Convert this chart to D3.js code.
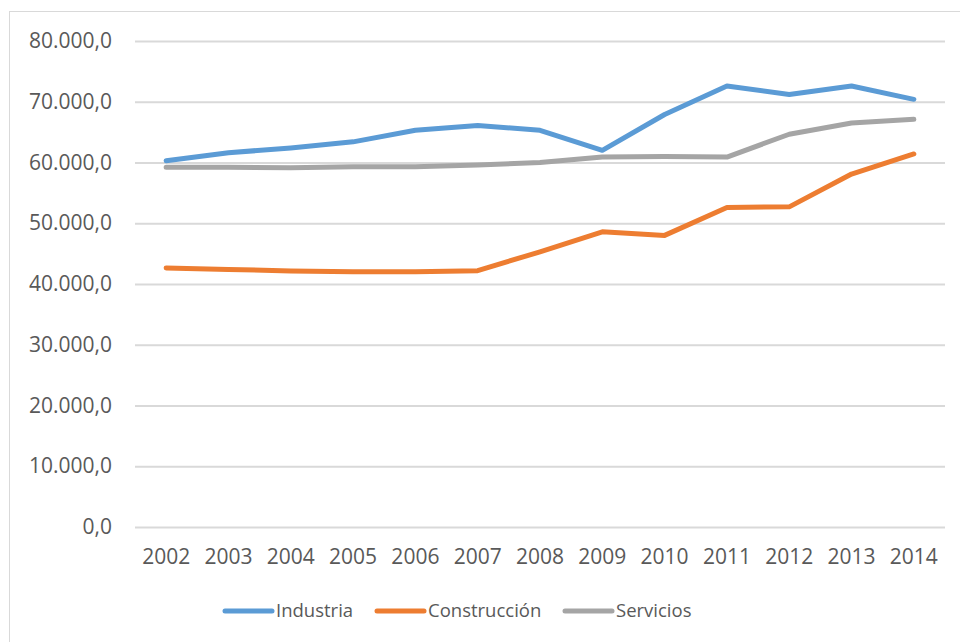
<!DOCTYPE html>
<html><head><meta charset="utf-8">
<script src="https://cdn.jsdelivr.net/npm/d3@7/dist/d3.min.js"></script>
<style>
html,body{margin:0;padding:0;background:#fff;}
text{font-family:"Open Sans",sans-serif;fill:#595959;}
</style></head>
<body>
<svg id="c" width="960" height="642"></svg>
<script>
const years = ["2002","2003","2004","2005","2006","2007","2008","2009","2010","2011","2012","2013","2014"];
const industria = [60300,61600,62400,63400,65300,66100,65300,62000,67900,72600,71200,72600,70400];
const construccion = [42650,42400,42150,42000,42000,42200,45300,48600,48000,52600,52700,58100,61400];
const servicios = [59200,59200,59150,59300,59300,59600,60000,60900,61000,60900,64650,66500,67100];
const yTicks = [0,10000,20000,30000,40000,50000,60000,70000,80000];
const seriesNames = ["Industria","Construcción","Servicios"];
const colors = ["#5B9BD5","#ED7D31","#A5A5A5"];

(function(){
const svg = d3.select("#c");
svg.append("rect").attr("x",9.5).attr("y",11.5).attr("width",1000).attr("height",700)
  .attr("fill","none").attr("stroke","#D9D9D9").attr("stroke-width",1);

const pl=135, pr=945, pt=41, pb=527;
const x = d3.scaleBand().domain(years).range([pl,pr]);
const y = d3.scaleLinear().domain([0,80000]).range([pb,pt]);
const fmt = v => d3.format(",.1f")(v).replace(/,/g,"X").replace(/\./g,",").replace(/X/g,".");

const yAxis = svg.append("g").attr("transform",`translate(${pl},0)`)
  .call(d3.axisLeft(y).tickValues(yTicks).tickSize(-(pr-pl)).tickPadding(23).tickFormat(fmt));
yAxis.select(".domain").remove();
yAxis.selectAll(".tick line").attr("stroke","#D9D9D9").attr("stroke-width",2);
yAxis.selectAll(".tick text").attr("font-size",21).attr("fill","#595959");

const xAxis = svg.append("g").attr("transform",`translate(0,${pb})`)
  .call(d3.axisBottom(x).tickSize(0).tickPadding(22));
xAxis.select(".domain").remove();
xAxis.selectAll(".tick text").attr("font-size",21).attr("fill","#595959");

const data = [industria, construccion, servicios];
const line = d3.line().x((d,i)=>x(years[i])+x.bandwidth()/2).y(d=>y(d));
[2,1,0].forEach(k=>{
  svg.append("path").datum(data[k]).attr("d",line).attr("fill","none")
    .attr("stroke",colors[k]).attr("stroke-width",5).attr("stroke-linecap","round").attr("stroke-linejoin","round");
});

const legX = [225,377,565];
const lg = svg.append("g");
seriesNames.forEach((n,i)=>{
  lg.append("line").attr("x1",legX[i]).attr("x2",legX[i]+47).attr("y1",611).attr("y2",611)
    .attr("stroke",colors[i]).attr("stroke-width",5).attr("stroke-linecap","round");
  lg.append("text").attr("x",legX[i]+51).attr("y",611).attr("dy","0.35em").attr("font-size",18.5).text(n);
});
})();
</script>
</body></html>
